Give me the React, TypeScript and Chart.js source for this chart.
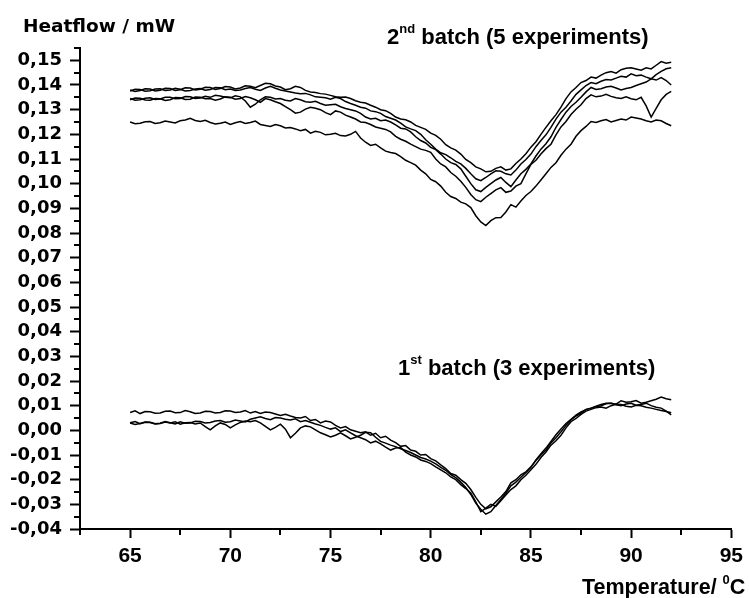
import React, { useEffect, useRef } from 'react';
import { Chart, registerables } from 'chart.js';

Chart.register(...registerables);

const TEMPS = [65, 65.25, 65.5, 65.75, 66, 66.25, 66.5, 66.75, 67, 67.25, 67.5, 67.75, 68, 68.25, 68.5, 68.75, 69, 69.25, 69.5, 69.75, 70, 70.25, 70.5, 70.75, 71, 71.25, 71.5, 71.75, 72, 72.25, 72.5, 72.75, 73, 73.25, 73.5, 73.75, 74, 74.25, 74.5, 74.75, 75, 75.25, 75.5, 75.75, 76, 76.25, 76.5, 76.75, 77, 77.25, 77.5, 77.75, 78, 78.25, 78.5, 78.75, 79, 79.25, 79.5, 79.75, 80, 80.25, 80.5, 80.75, 81, 81.25, 81.5, 81.75, 82, 82.25, 82.5, 82.75, 83, 83.25, 83.5, 83.75, 84, 84.25, 84.5, 84.75, 85, 85.25, 85.5, 85.75, 86, 86.25, 86.5, 86.75, 87, 87.25, 87.5, 87.75, 88, 88.25, 88.5, 88.75, 89, 89.25, 89.5, 89.75, 90, 90.25, 90.5, 90.75, 91, 91.25, 91.5, 91.75, 92];

// 2nd batch (5 experiments)
const BATCH2_RUN1 = [0.1380, 0.1374, 0.1378, 0.1385, 0.1384, 0.1376, 0.1379, 0.1387, 0.1386, 0.1378, 0.1381, 0.1389, 0.1388, 0.1380, 0.1383, 0.1391, 0.1390, 0.1382, 0.1386, 0.1394, 0.1392, 0.1384, 0.1388, 0.1397, 0.1395, 0.1389, 0.1398, 0.1407, 0.1405, 0.1396, 0.1392, 0.1381, 0.1385, 0.1395, 0.1390, 0.1378, 0.1372, 0.1370, 0.1365, 0.1363, 0.1358, 0.1352, 0.1350, 0.1351, 0.1345, 0.1336, 0.1330, 0.1327, 0.1318, 0.1310, 0.1300, 0.1296, 0.1285, 0.1270, 0.1262, 0.1259, 0.1250, 0.1236, 0.1228, 0.1220, 0.1205, 0.1196, 0.1180, 0.1158, 0.1145, 0.1136, 0.1120, 0.1098, 0.1085, 0.1068, 0.1060, 0.1048, 0.1050, 0.1062, 0.1068, 0.1055, 0.1060, 0.1082, 0.1100, 0.1121, 0.1148, 0.1170, 0.1200, 0.1228, 0.1255, 0.1280, 0.1310, 0.1345, 0.1372, 0.1390, 0.1410, 0.1418, 0.1432, 0.1428, 0.1440, 0.1450, 0.1455, 0.1448, 0.1462, 0.1468, 0.1470, 0.1465, 0.1460, 0.1470, 0.1465, 0.1480, 0.1495, 0.1488, 0.1492];
const BATCH2_RUN2 = [0.1376, 0.1383, 0.1382, 0.1375, 0.1377, 0.1384, 0.1385, 0.1378, 0.1380, 0.1387, 0.1383, 0.1376, 0.1378, 0.1384, 0.1386, 0.1379, 0.1382, 0.1390, 0.1389, 0.1381, 0.1384, 0.1378, 0.1380, 0.1386, 0.1390, 0.1383, 0.1378, 0.1388, 0.1395, 0.1387, 0.1380, 0.1376, 0.1372, 0.1368, 0.1365, 0.1366, 0.1360, 0.1352, 0.1350, 0.1348, 0.1342, 0.1350, 0.1345, 0.1333, 0.1325, 0.1318, 0.1310, 0.1306, 0.1295, 0.1292, 0.1285, 0.1272, 0.1265, 0.1258, 0.1245, 0.1230, 0.1222, 0.1215, 0.1200, 0.1178, 0.1160, 0.1140, 0.1125, 0.1118, 0.1105, 0.1090, 0.1080, 0.1062, 0.1040, 0.1020, 0.1012, 0.1025, 0.1040, 0.1052, 0.1050, 0.1040, 0.1035, 0.1055, 0.1080, 0.1098, 0.1120, 0.1150, 0.1175, 0.1198, 0.1228, 0.1262, 0.1290, 0.1310, 0.1335, 0.1362, 0.1380, 0.1398, 0.1410, 0.1405, 0.1415, 0.1422, 0.1420, 0.1428, 0.1435, 0.1432, 0.1445, 0.1438, 0.1440, 0.1432, 0.1425, 0.1442, 0.1455, 0.1466, 0.1470];
const BATCH2_RUN3 = [0.1345, 0.1338, 0.1340, 0.1346, 0.1348, 0.1341, 0.1343, 0.1350, 0.1350, 0.1344, 0.1345, 0.1353, 0.1352, 0.1345, 0.1347, 0.1354, 0.1350, 0.1358, 0.1355, 0.1350, 0.1348, 0.1356, 0.1352, 0.1335, 0.1310, 0.1322, 0.1340, 0.1352, 0.1350, 0.1343, 0.1345, 0.1338, 0.1335, 0.1345, 0.1340, 0.1332, 0.1330, 0.1334, 0.1325, 0.1318, 0.1320, 0.1322, 0.1312, 0.1305, 0.1300, 0.1295, 0.1285, 0.1270, 0.1262, 0.1265, 0.1255, 0.1258, 0.1250, 0.1238, 0.1225, 0.1222, 0.1210, 0.1190, 0.1175, 0.1165, 0.1147, 0.1138, 0.1120, 0.1100, 0.1085, 0.1078, 0.1060, 0.1030, 0.1000, 0.0975, 0.0968, 0.0985, 0.1000, 0.1015, 0.1025, 0.1005, 0.0988, 0.1015, 0.1040, 0.1058, 0.1080, 0.1112, 0.1140, 0.1162, 0.1190, 0.1228, 0.1260, 0.1290, 0.1313, 0.1330, 0.1350, 0.1372, 0.1390, 0.1382, 0.1385, 0.1392, 0.1395, 0.1388, 0.1380, 0.1386, 0.1390, 0.1398, 0.1405, 0.1412, 0.1425, 0.1420, 0.1430, 0.1418, 0.1400];
const BATCH2_RUN4 = [0.1340, 0.1347, 0.1346, 0.1339, 0.1338, 0.1345, 0.1344, 0.1337, 0.1340, 0.1349, 0.1348, 0.1341, 0.1342, 0.1351, 0.1350, 0.1344, 0.1345, 0.1338, 0.1343, 0.1352, 0.1350, 0.1342, 0.1345, 0.1353, 0.1348, 0.1340, 0.1330, 0.1345, 0.1340, 0.1332, 0.1325, 0.1312, 0.1300, 0.1286, 0.1290, 0.1302, 0.1310, 0.1306, 0.1300, 0.1288, 0.1280, 0.1295, 0.1290, 0.1278, 0.1270, 0.1262, 0.1250, 0.1248, 0.1240, 0.1230, 0.1225, 0.1220, 0.1210, 0.1192, 0.1180, 0.1172, 0.1160, 0.1150, 0.1140, 0.1135, 0.1127, 0.1100, 0.1080, 0.1068, 0.1045, 0.1030, 0.1010, 0.0985, 0.0956, 0.0935, 0.0927, 0.0945, 0.0960, 0.0975, 0.0984, 0.0965, 0.0970, 0.0990, 0.1000, 0.1040, 0.1078, 0.1095, 0.1120, 0.1142, 0.1160, 0.1198, 0.1230, 0.1252, 0.1280, 0.1302, 0.1320, 0.1345, 0.1360, 0.1352, 0.1355, 0.1362, 0.1354, 0.1348, 0.1345, 0.1352, 0.1344, 0.1340, 0.1350, 0.1315, 0.1270, 0.1305, 0.1340, 0.1362, 0.1374];
const BATCH2_RUN5 = [0.1250, 0.1243, 0.1245, 0.1251, 0.1252, 0.1244, 0.1247, 0.1254, 0.1250, 0.1246, 0.1255, 0.1258, 0.1265, 0.1256, 0.1252, 0.1257, 0.1248, 0.1242, 0.1245, 0.1250, 0.1240, 0.1247, 0.1252, 0.1244, 0.1248, 0.1254, 0.1240, 0.1236, 0.1232, 0.1240, 0.1235, 0.1226, 0.1228, 0.1222, 0.1215, 0.1220, 0.1205, 0.1212, 0.1208, 0.1198, 0.1200, 0.1204, 0.1195, 0.1193, 0.1200, 0.1212, 0.1185, 0.1168, 0.1155, 0.1160, 0.1145, 0.1132, 0.1126, 0.1122, 0.1110, 0.1095, 0.1085, 0.1075, 0.1055, 0.1040, 0.1017, 0.1008, 0.0990, 0.0965, 0.0948, 0.0940, 0.0925, 0.0918, 0.0903, 0.0870, 0.0845, 0.0830, 0.0850, 0.0862, 0.0863, 0.0885, 0.0915, 0.0905, 0.0930, 0.0952, 0.0968, 0.0990, 0.1015, 0.1040, 0.1066, 0.1085, 0.1115, 0.1140, 0.1160, 0.1192, 0.1215, 0.1232, 0.1252, 0.1248, 0.1255, 0.1260, 0.1250, 0.1256, 0.1262, 0.1258, 0.1270, 0.1266, 0.1262, 0.1255, 0.1250, 0.1258, 0.1255, 0.1244, 0.1235];

// 1st batch (3 experiments)
const BATCH1_RUN1 = [0.0072, 0.0079, 0.0068, 0.0076, 0.0075, 0.0069, 0.0070, 0.0077, 0.0078, 0.0071, 0.0072, 0.0080, 0.0075, 0.0068, 0.0070, 0.0077, 0.0076, 0.0070, 0.0072, 0.0079, 0.0078, 0.0072, 0.0074, 0.0080, 0.0070, 0.0076, 0.0068, 0.0074, 0.0072, 0.0066, 0.0060, 0.0065, 0.0058, 0.0052, 0.0050, 0.0056, 0.0040, 0.0044, 0.0030, 0.0038, 0.0034, 0.0020, 0.0010, 0.0015, 0.0002, -0.0004, -0.0010, -0.0006, -0.0020, -0.0012, -0.0030, -0.0024, -0.0040, -0.0050, -0.0065, -0.0062, -0.0080, -0.0085, -0.0100, -0.0098, -0.0115, -0.0124, -0.0140, -0.0155, -0.0175, -0.0182, -0.0200, -0.0215, -0.0240, -0.0272, -0.0300, -0.0318, -0.0310, -0.0290, -0.0270, -0.0248, -0.0213, -0.0200, -0.0180, -0.0168, -0.0148, -0.0122, -0.0100, -0.0080, -0.0051, -0.0030, -0.0006, 0.0020, 0.0042, 0.0058, 0.0070, 0.0085, 0.0090, 0.0096, 0.0100, 0.0108, 0.0110, 0.0106, 0.0120, 0.0114, 0.0116, 0.0121, 0.0110, 0.0114, 0.0120, 0.0126, 0.0135, 0.0128, 0.0124];
const BATCH1_RUN2 = [0.0030, 0.0024, 0.0028, 0.0034, 0.0033, 0.0027, 0.0029, 0.0036, 0.0031, 0.0026, 0.0035, 0.0029, 0.0030, 0.0037, 0.0036, 0.0030, 0.0032, 0.0038, 0.0040, 0.0033, 0.0035, 0.0042, 0.0038, 0.0034, 0.0045, 0.0050, 0.0055, 0.0048, 0.0043, 0.0052, 0.0050, 0.0045, 0.0042, 0.0047, 0.0035, 0.0040, 0.0033, 0.0026, 0.0020, 0.0012, 0.0005, 0.0010, -0.0005, 0.0002, -0.0010, -0.0022, -0.0030, -0.0038, -0.0051, -0.0044, -0.0055, -0.0068, -0.0080, -0.0072, -0.0070, -0.0088, -0.0100, -0.0108, -0.0120, -0.0126, -0.0135, -0.0148, -0.0160, -0.0172, -0.0189, -0.0200, -0.0220, -0.0236, -0.0254, -0.0290, -0.0330, -0.0315, -0.0300, -0.0308, -0.0285, -0.0262, -0.0240, -0.0225, -0.0200, -0.0182, -0.0160, -0.0138, -0.0110, -0.0088, -0.0060, -0.0042, -0.0020, 0.0010, 0.0035, 0.0048, 0.0065, 0.0078, 0.0085, 0.0092, 0.0095, 0.0090, 0.0100, 0.0106, 0.0105, 0.0098, 0.0095, 0.0102, 0.0100, 0.0094, 0.0090, 0.0085, 0.0080, 0.0076, 0.0071];
const BATCH1_RUN3 = [0.0031, 0.0036, 0.0027, 0.0033, 0.0032, 0.0026, 0.0028, 0.0034, 0.0030, 0.0035, 0.0025, 0.0031, 0.0032, 0.0026, 0.0030, 0.0015, 0.0002, 0.0018, 0.0030, 0.0024, 0.0010, 0.0022, 0.0032, 0.0038, 0.0035, 0.0040, 0.0030, 0.0016, 0.0002, 0.0012, 0.0025, 0.0005, -0.0030, -0.0012, 0.0010, 0.0018, 0.0014, 0.0002, -0.0010, -0.0018, -0.0027, -0.0020, -0.0010, -0.0022, -0.0035, -0.0028, -0.0020, -0.0008, -0.0010, -0.0028, -0.0045, -0.0052, -0.0060, -0.0066, -0.0075, -0.0082, -0.0090, -0.0100, -0.0110, -0.0116, -0.0125, -0.0136, -0.0150, -0.0162, -0.0180, -0.0192, -0.0210, -0.0232, -0.0260, -0.0295, -0.0320, -0.0340, -0.0330, -0.0305, -0.0280, -0.0255, -0.0225, -0.0210, -0.0190, -0.0172, -0.0150, -0.0120, -0.0095, -0.0072, -0.0045, -0.0018, 0.0005, 0.0028, 0.0045, 0.0062, 0.0075, 0.0084, 0.0090, 0.0098, 0.0105, 0.0110, 0.0110, 0.0104, 0.0100, 0.0107, 0.0110, 0.0102, 0.0105, 0.0110, 0.0100, 0.0094, 0.0090, 0.0078, 0.0063];

const SERIES = [BATCH2_RUN1, BATCH2_RUN2, BATCH2_RUN3, BATCH2_RUN4, BATCH2_RUN5, BATCH1_RUN1, BATCH1_RUN2, BATCH1_RUN3];
const SERIES_NAMES = ['2nd batch, run 1', '2nd batch, run 2', '2nd batch, run 3', '2nd batch, run 4', '2nd batch, run 5', '1st batch, run 1', '1st batch, run 2', '1st batch, run 3'];

const Y_TICKS = [-0.04, -0.03, -0.02, -0.01, 0, 0.01, 0.02, 0.03, 0.04, 0.05, 0.06, 0.07, 0.08, 0.09, 0.1, 0.11, 0.12, 0.13, 0.14, 0.15];
const Y_MINOR = [-0.035, -0.025, -0.015, -0.005, 0.005, 0.015, 0.025, 0.035, 0.045, 0.055, 0.065, 0.075, 0.085, 0.095, 0.105, 0.115, 0.125, 0.135, 0.145, 0.155];
const X_TICKS = [65, 70, 75, 80, 85, 90, 95];
const X_MINOR = [62.5, 67.5, 72.5, 77.5, 82.5, 87.5, 92.5];

const Y_TITLE = 'Heatflow / mW';
const X_TITLE = ['Temperature/ ', '0', 'C'];
const LABEL_BATCH2 = ['2', 'nd', ' batch (5 experiments)'];
const LABEL_BATCH1 = ['1', 'st', ' batch (3 experiments)'];

const ARIAL = "'Liberation Sans', Arial, sans-serif";
const DEJAVU = "'DejaVu Sans', sans-serif";

function drawSup(ctx: CanvasRenderingContext2D, parts: string[], x: number, y: number, size: number, supSize: number, supRise: number) {
  ctx.font = `bold ${size}px ${ARIAL}`;
  ctx.fillText(parts[0], x, y);
  let cx = x + ctx.measureText(parts[0]).width;
  ctx.font = `bold ${supSize}px ${ARIAL}`;
  ctx.fillText(parts[1], cx, y - supRise);
  cx += ctx.measureText(parts[1]).width;
  ctx.font = `bold ${size}px ${ARIAL}`;
  ctx.fillText(parts[2], cx, y);
}

const annotations = {
  id: 'annotations',
  afterDraw(chart: any) {
    const ctx: CanvasRenderingContext2D = chart.ctx;
    const xs = chart.scales.x;
    const ys = chart.scales.y;
    const area = chart.chartArea;
    ctx.save();
    ctx.strokeStyle = '#000';
    ctx.lineWidth = 2;
    for (const v of X_MINOR) {
      const px = Math.round(xs.getPixelForValue(v));
      ctx.beginPath();
      ctx.moveTo(px, area.bottom);
      ctx.lineTo(px, area.bottom + 6);
      ctx.stroke();
    }
    for (const v of Y_MINOR) {
      const py = Math.round(ys.getPixelForValue(v));
      ctx.beginPath();
      ctx.moveTo(area.left, py);
      ctx.lineTo(area.left - 6, py);
      ctx.stroke();
    }
    ctx.fillStyle = '#000';
    ctx.textBaseline = 'alphabetic';
    ctx.textAlign = 'left';
    ctx.font = `bold 18.5px ${DEJAVU}`;
    ctx.fillText(Y_TITLE, 23, 32);
    drawSup(ctx, LABEL_BATCH2, 387, 44, 22, 13, 11);
    drawSup(ctx, LABEL_BATCH1, 398, 375, 22, 13, 11);
    drawSup(ctx, X_TITLE, 582, 594, 21.5, 13, 10);
    ctx.restore();
  },
};

export default function App() {
  const ref = useRef<HTMLCanvasElement>(null);
  useEffect(() => {
    if (!ref.current) return;
    const chart = new Chart(ref.current, {
      type: 'line',
      data: {
        datasets: SERIES.map((s, i) => ({
          label: SERIES_NAMES[i],
          data: TEMPS.map((t, j) => ({ x: t, y: s[j] })),
          borderColor: '#000',
          borderWidth: 1.5,
          pointRadius: 0,
          tension: 0,
          fill: false,
        })),
      },
      options: {
        responsive: false,
        animation: false,
        layout: { padding: { top: 48, right: 16, left: 0, bottom: 0 } },
        plugins: { legend: { display: false }, tooltip: { enabled: false }, title: { display: false } },
        scales: {
          x: {
            type: 'linear',
            min: 62.5,
            max: 95,
            afterFit: (s: any) => { s.height = 69; },
            afterBuildTicks: (s: any) => { s.ticks = X_TICKS.map((v) => ({ value: v })); },
            grid: { drawOnChartArea: false, drawTicks: true, tickLength: 9, tickWidth: 2, tickColor: '#000' },
            border: { display: true, color: '#000', width: 2 },
            ticks: {
              color: '#000',
              padding: 6,
              maxRotation: 0,
              autoSkip: false,
              font: { family: ARIAL, size: 21, weight: 'bold' },
              callback: (v: any) => String(v),
            },
          },
          y: {
            type: 'linear',
            min: -0.04,
            max: 0.155,
            afterFit: (s: any) => { s.width = 80; },
            afterBuildTicks: (s: any) => { s.ticks = Y_TICKS.map((v) => ({ value: v })); },
            grid: { drawOnChartArea: false, drawTicks: true, tickLength: 10, tickWidth: 2, tickColor: '#000' },
            border: { display: true, color: '#000', width: 2 },
            ticks: {
              color: '#000',
              padding: 8,
              autoSkip: false,
              font: { family: DEJAVU, size: 18, weight: 'bold' },
              callback: (v: any) => Number(v).toFixed(2).replace('.', ','),
            },
          },
        },
      },
      plugins: [annotations],
    });
    return () => chart.destroy();
  }, []);
  return (
    <div style={{ position: 'absolute', left: 0, top: 0, width: 749, height: 598, background: '#fff' }}>
      <canvas ref={ref} width={749} height={598} style={{ display: 'block', width: 749, height: 598 }} />
    </div>
  );
}
